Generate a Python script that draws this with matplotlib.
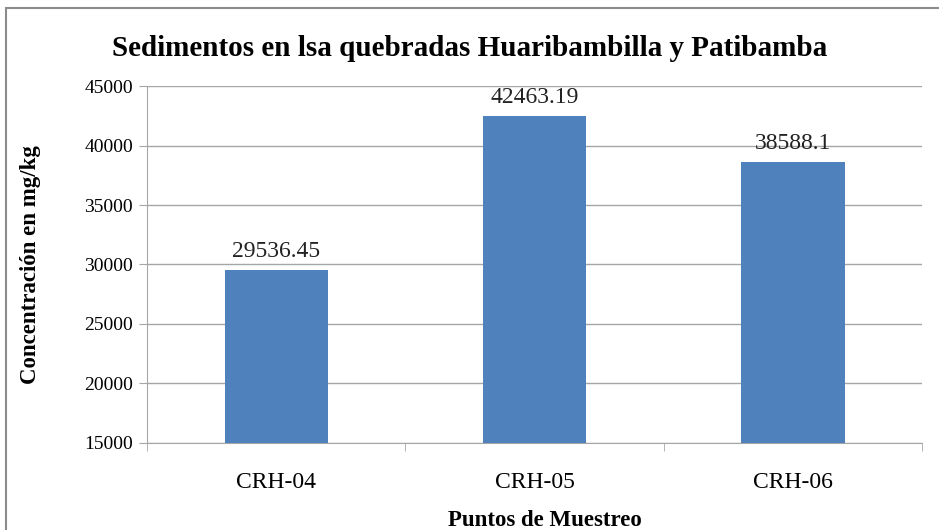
import matplotlib.pyplot as plt
from matplotlib.patches import Rectangle

puntos = ['CRH-04', 'CRH-05', 'CRH-06']
concentracion = [29536.45, 42463.19, 38588.1]
etiquetas = ['29536.45', '42463.19', '38588.1']
yticks = [15000, 20000, 25000, 30000, 35000, 40000, 45000]

plt.rcParams['font.family'] = ['Liberation Serif', 'DejaVu Serif']

fig = plt.figure(figsize=(9.39, 5.30), dpi=100)
ax = fig.add_axes([0.1566, 0.1642, 0.8254, 0.6735])

x = list(range(len(puntos)))
bars = ax.bar(x, concentracion, width=0.4, color='#4F81BD', zorder=3)

for xi, v, lab in zip(x, concentracion, etiquetas):
    ax.annotate(lab, (xi, v), xytext=(0, 6), textcoords='offset points',
                ha='center', va='bottom', fontsize=17, color='#222222')

ax.set_ylim(15000, 45000)
ax.set_xlim(-0.5, 2.5)
ax.set_yticks(yticks)
ax.set_yticklabels([str(t) for t in yticks], fontsize=14)
ax.yaxis.grid(True, color='#a6a6a6', lw=1, zorder=0)

ax.set_xticks(x)
ax.set_xticklabels(puntos, fontsize=17)
ax.set_xticks([-0.5, 0.5, 1.5, 2.5], minor=True)
ax.tick_params(axis='x', which='major', length=0, pad=21)
ax.tick_params(axis='x', which='minor', length=6, color='#a6a6a6')
ax.tick_params(axis='y', length=6, color='#a6a6a6', pad=4)

for s in ['top', 'right']:
    ax.spines[s].set_visible(False)
for s in ['left', 'bottom']:
    ax.spines[s].set_color('#a6a6a6')

fig.text(0.5, 0.908, 'Sedimentos en lsa quebradas Huaribambilla y Patibamba',
         ha='center', va='center', fontsize=21, fontweight='bold')
fig.text(0.032, 0.5, 'Concentración en mg/kg', rotation=90,
         ha='center', va='center', fontsize=16.5, fontweight='bold')
fig.text(0.58, 0.018, 'Puntos de Muestreo', ha='center', va='center',
         fontsize=16.5, fontweight='bold')

fig.patches.append(Rectangle((0.0064, -0.1), 1.1, 1.085, transform=fig.transFigure,
                             fill=False, edgecolor='#8c8c8c', lw=1.5))

fig.savefig('out.png', dpi=100)
